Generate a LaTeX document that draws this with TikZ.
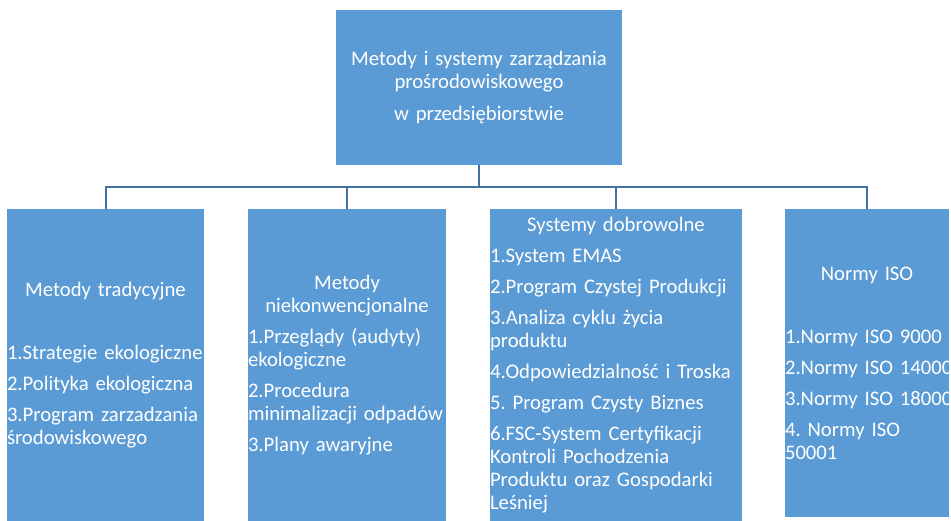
\documentclass[tikz,border=0pt]{standalone}
\usepackage{fontspec}
\setmainfont{Carlito}
\definecolor{boxblue}{HTML}{5B9BD5}
\definecolor{lineblue}{HTML}{41719C}

\begin{document}
\begin{tikzpicture}[x=1pt,y=-1pt,
    box/.style={fill=boxblue,text=white,inner sep=0pt,minimum height=312pt,
      align=left,font=\fontsize{20.7}{23}\selectfont},
    tree/.style={draw=lineblue,line width=2pt}]
    \useasboundingbox (0,0) rectangle (951,520);

    \node[box,minimum height=155pt,text width=286pt,align=center] (root) at (479,87.5)
      {Metody i systemy zarządzania\\prośrodowiskowego\\[9pt]w przedsiębiorstwie};

    \node[box,text width=197pt] (trad) at (105.5,365)
      {{\centering Metody tradycyjne\par}\vspace{40pt}
       1.Strategie~ekologiczne\\[8pt]2.Polityka~ekologiczna\\[8pt]3.Program~zarzadzania\\środowiskowego};
    \node[box,text width=198pt] (niek) at (347,365)
      {{\centering Metody\\niekonwencjonalne\par}\vspace{8pt}
       1.Przeglądy~(audyty)\\ekologiczne\\[8pt]2.Procedura\\minimalizacji~odpadów\\[8pt]3.Plany~awaryjne};
    \node[box,text width=252pt] (dobr) at (616,365)
      {{\centering Systemy dobrowolne\par}\vspace{8pt}
       1.System~EMAS\\[8pt]2.Program~Czystej~Produkcji\\[8pt]3.Analiza~cyklu~życia\\produktu\\[8pt]%
       4.Odpowiedzialność~i~Troska\\[8pt]5.~Program~Czysty~Biznes\\[8pt]%
       6.FSC-System~Certyfikacji\\Kontroli~Pochodzenia\\Produktu~oraz~Gospodarki\\Leśniej};
    \node[box,text width=164pt,minimum height=308pt] (iso) at (867,363)
      {{\centering Normy ISO\par}\vspace{40pt}
       1.Normy~ISO~9000\\[8pt]2.Normy~ISO~14000\\[8pt]3.Normy~ISO~18000\\[8pt]4.~Normy~ISO\\50001};

    % polaczenia
    \foreach \b in {trad,niek,dobr,iso}
      \draw[tree] (root.south) -- ++(0,22) -| (\b.north);
\end{tikzpicture}
\end{document}
